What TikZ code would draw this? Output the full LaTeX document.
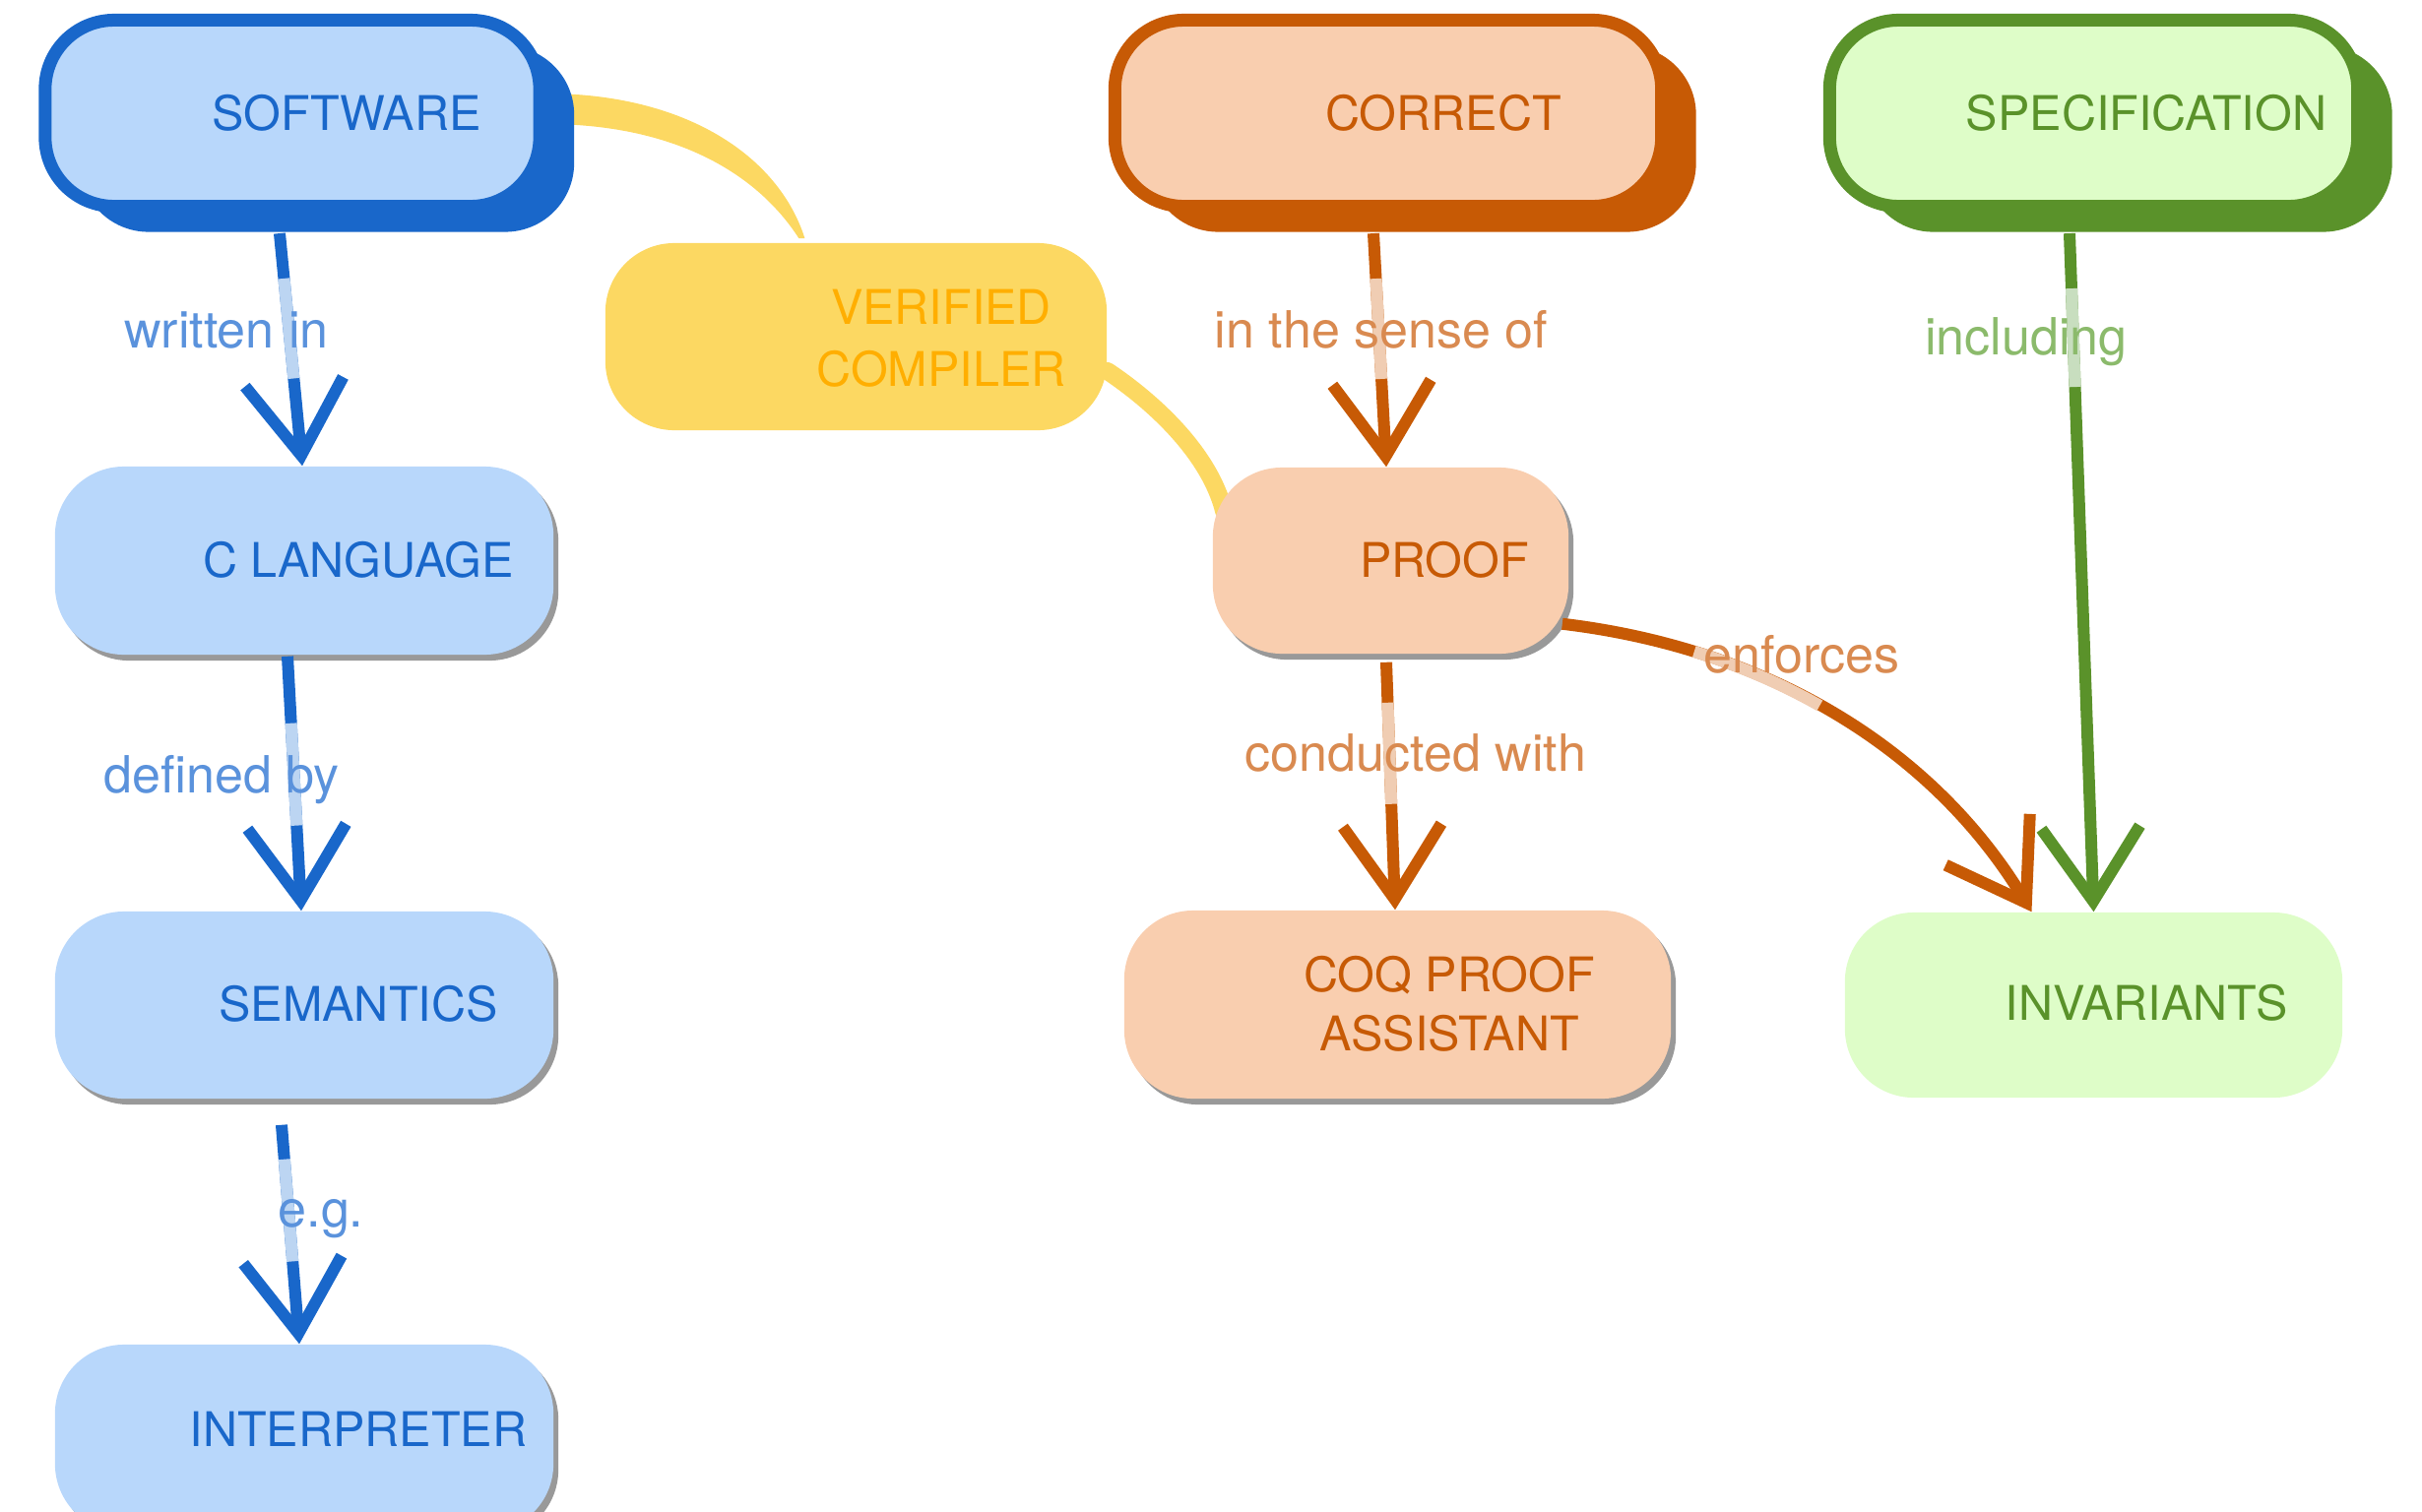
\documentclass[tikz,border=0pt]{standalone}
\usepackage{fontspec}
\setmainfont{TeX Gyre Heros}
\usetikzlibrary{shadows,arrows.meta}

\definecolor{blueDark}{HTML}{1967CA}
\definecolor{blueFill}{HTML}{B8D7FB}
\definecolor{blueLabel}{HTML}{5A92DC}
\definecolor{blueFaint}{HTML}{BCD5F2}
\definecolor{orangeDark}{HTML}{C75A05}
\definecolor{orangeFill}{HTML}{F9CEAF}
\definecolor{orangeLabel}{HTML}{D98A50}
\definecolor{orangeFaint}{HTML}{F0CDB3}
\definecolor{greenDark}{HTML}{5A922A}
\definecolor{greenFill}{HTML}{DEFDC8}
\definecolor{greenLabel}{HTML}{8BBA6B}
\definecolor{greenFaint}{HTML}{C8DEBF}
\definecolor{yellowFill}{HTML}{FCD862}
\definecolor{yellowText}{HTML}{FFAE00}

\pgfdeclarelayer{strokes}
\pgfsetlayers{strokes,main}

\tikzset{
  box/.style={rectangle, rounded corners=0.7cm, inner sep=0pt},
  mainbox/.style={box, draw=#1, line width=0.13cm,
    drop shadow={shadow xshift=0.35cm, shadow yshift=-0.26cm, opacity=1, fill=#1}},
  subbox/.style={box,
    drop shadow={shadow xshift=0.05cm, shadow yshift=-0.06cm, opacity=0.4, fill=black}},
  txt/.style={font=\fontsize{13.8}{18}\selectfont, align=center, inner sep=0pt},
  lbl/.style={font=\fontsize{14.8}{18}\selectfont, inner sep=0pt, anchor=base},
  chalk/.style={draw=#1, line width=0.12cm,
    -{Straight Barb[length=0.75cm, width=1.0cm]}},
  faint/.style n args={3}{draw=#1, line width=0.12cm,
    dash pattern=on 0pt off #2 on #3 off 30cm},
}
% a chalk connector with a faded stretch behind its label
\newcommand{\chalkline}[6]{%
  \draw[chalk=#1] #3 -- #4;
  \draw[faint={#2}{#5}{#6}] #3 -- #4;}

\begin{document}
\begin{tikzpicture}[x=0.01cm, y=-0.01cm]
\useasboundingbox (0,0) rectangle (2460,1536);
\clip (0,0) rectangle (2460,1536);

% ---- nodes
\node[box, fill=yellowFill, minimum width=5.09cm, minimum height=1.90cm] (verified) at (869.5,342) {};

\node[mainbox=blueDark, fill=blueFill, minimum width=5.02cm, minimum height=1.89cm] (software) at (297,115) {};
\node[mainbox=orangeDark, fill=orangeFill, minimum width=5.55cm, minimum height=1.89cm] (correct) at (1410,115) {};
\node[mainbox=greenDark, fill=greenFill, minimum width=5.36cm, minimum height=1.89cm] (spec) at (2126.5,115) {};

\node[subbox, fill=blueFill, minimum width=5.06cm, minimum height=1.91cm] (clang) at (309,569.5) {};
\node[subbox, fill=blueFill, minimum width=5.06cm, minimum height=1.90cm] (semantics) at (309,1021) {};
\node[subbox, fill=blueFill, minimum width=5.06cm, minimum height=1.91cm] (interp) at (309,1461.5) {};
\node[subbox, fill=orangeFill, minimum width=3.61cm, minimum height=1.89cm] (proof) at (1412.5,569.5) {};
\node[subbox, fill=orangeFill, minimum width=5.55cm, minimum height=1.91cm] (coq) at (1419.5,1020.5) {};
\node[box, fill=greenFill, minimum width=5.05cm, minimum height=1.88cm] (invariants) at (2126.5,1021) {};

% yellow brush strokes around the compiler box, kept behind the boxes
\begin{pgfonlayer}{strokes}
\fill[yellowFill] ([yshift=0.2cm]software.east)
  .. controls +(140,0) and +(-27,-85) .. ([xshift=-0.52cm,yshift=0.04cm]verified.north)
  -- ([xshift=-0.58cm,yshift=0.04cm]verified.north)
  .. controls +(-45,-70) and +(125,0) .. ([yshift=-0.11cm]software.east) -- cycle;
\draw[yellowFill, line width=0.18cm, line cap=round] ([yshift=-0.35cm]verified.east)
  .. controls +(45,30) and +(-15,-60) .. ([xshift=0.12cm,yshift=0.5cm]proof.west);
\end{pgfonlayer}

% ---- node texts
\node[txt, text=blueDark] (softwareT) at (352,115) {SOFTWARE};
\node[txt, text=orangeDark] (correctT) at (1466,115) {CORRECT};
\node[txt, text=greenDark] (specT) at (2180,115) {SPECIFICATION};
\node[txt, text=yellowText] (verifiedT) at (956,344) {VERIFIED\\COMPILER};
\node[txt, text=blueDark] (clangT) at (364,569) {C LANGUAGE};
\node[txt, text=blueDark] (semanticsT) at (364,1020) {SEMANTICS};
\node[txt, text=blueDark] (interpT) at (364,1452) {INTERPRETER};
\node[txt, text=orangeDark] (proofT) at (1467,569) {PROOF};
\node[txt, text=orangeDark] (coqT) at (1472,1020) {COQ PROOF\\[-0.03cm]ASSISTANT};
\node[txt, text=greenDark] (invariantsT) at (2180,1019) {INVARIANTS};

% ---- connectors
\chalkline{blueDark}{blueFaint}{([xshift=-0.13cm,yshift=-0.21cm]software.south)}{([xshift=-0.02cm]clang.north)}{0.46cm}{1.02cm}
\chalkline{blueDark}{blueFaint}{([xshift=-0.17cm,yshift=-0.01cm]clang.south)}{([xshift=-0.03cm]semantics.north)}{0.68cm}{1.04cm}
\chalkline{blueDark}{blueFaint}{([xshift=-0.23cm,yshift=-0.26cm]semantics.south)}{([xshift=-0.05cm]interp.north)}{0.35cm}{1.04cm}
\chalkline{orangeDark}{orangeFaint}{([xshift=-0.15cm,yshift=-0.21cm]correct.south)}{([xshift=-0.045cm]proof.north)}{0.46cm}{1.02cm}
\chalkline{orangeDark}{orangeFaint}{([xshift=-0.045cm,yshift=-0.08cm]proof.south)}{([xshift=-0.025cm]coq.north)}{0.41cm}{1.03cm}

\draw[chalk=orangeDark] ([xshift=-0.07cm,yshift=0.31cm]proof.south east)
  .. controls +(210,25) and +(-100,-165) .. ([xshift=-0.63cm]invariants.north);
\draw[faint={orangeFaint}{1.37cm}{1.39cm}] ([xshift=-0.07cm,yshift=0.31cm]proof.south east)
  .. controls +(210,25) and +(-100,-165) .. ([xshift=-0.63cm]invariants.north);

\chalkline{greenDark}{greenFaint}{([xshift=-0.245cm,yshift=-0.21cm]spec.south)}{(invariants.north)}{0.56cm}{1.00cm}

% ---- connector labels
\node[lbl, text=blueLabel] (writtenIn) at (230,353) {written in};
\node[lbl, text=blueLabel] (definedBy) at (225,805) {defined by};
\node[lbl, text=blueLabel] (eg) at (326,1246) {e.g.};
\node[lbl, text=orangeLabel] (senseOf) at (1403,353) {in the sense of};
\node[lbl, text=orangeLabel] (conducted) at (1438,783) {conducted with};
\node[lbl, text=orangeLabel] (enforces) at (1830,683) {enforces};
\node[lbl, text=greenLabel] (including) at (2058,360) {including};
\end{tikzpicture}
\end{document}
